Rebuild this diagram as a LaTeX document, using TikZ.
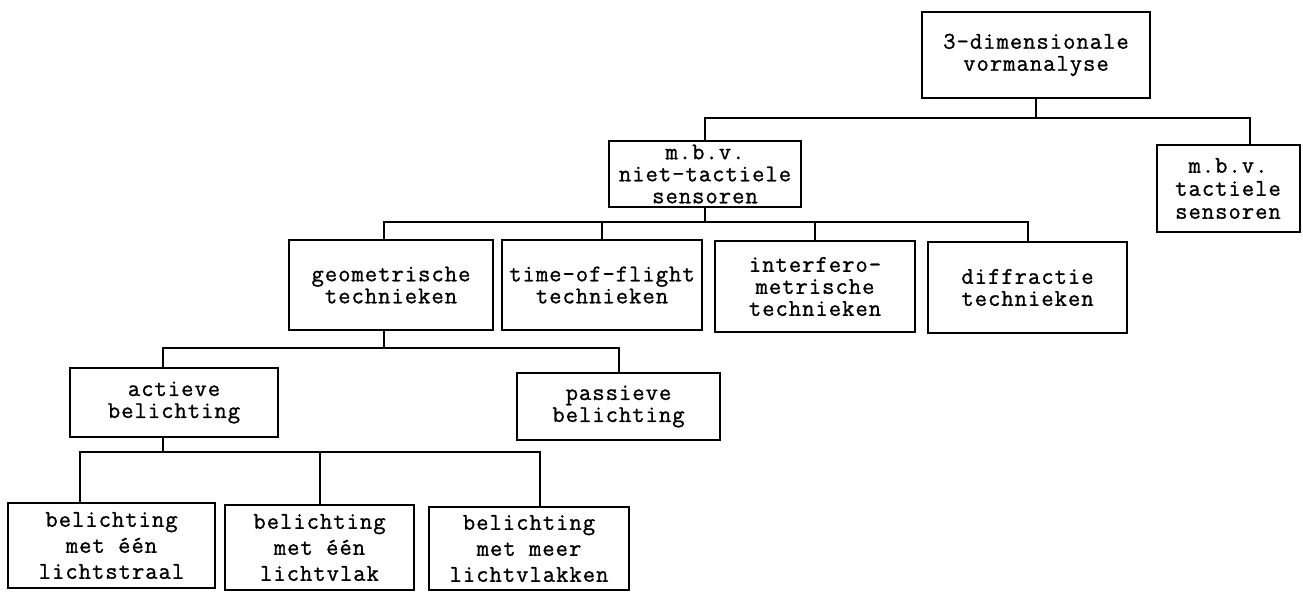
\documentclass[tikz,border=0pt]{standalone}
\usepackage{fontspec}
\setmonofont{Latin Modern Mono}[FakeBold=1, LetterSpace=4]
\usetikzlibrary{positioning}

\begin{document}
\begin{tikzpicture}[
  x=1pt, y=-1pt,
  box/.style={rectangle, draw=black, line width=2pt, align=center, inner xsep=2pt, inner ysep=0pt,
              font=\ttfamily\fontsize{24}{22}\selectfont},
  tallbox/.style={box, font=\ttfamily\fontsize{24}{26}\selectfont},
  link/.style={draw=black, line width=2pt}]
  \path[fill=white] (0,0) rectangle (1303,592);
  % bus levels
  \coordinate (bus1) at (0,118);
  \coordinate (bus2) at (0,222);
  \coordinate (bus3) at (0,348);
  \coordinate (bus4) at (0,452);
  % level 0 and 1
  \node[box, minimum width=228pt, minimum height=86pt] (vorm) at (1036,55) {3-dimensionale\\vormanalyse};
  \node[box, minimum width=192pt, minimum height=66pt] (niet) at (705,174) {m.b.v.\\niet-tactiele\\sensoren};
  \node[box, minimum width=143pt, minimum height=87pt, font=\ttfamily\fontsize{24}{23}\selectfont] (tact) at (1228,188.5) {m.b.v.\\tactiele\\sensoren};
  % level 2
  \node[box, minimum width=204pt, minimum height=90pt] (geo) at (391,285) {geometrische\\technieken};
  \node[box, minimum width=200pt, minimum height=90pt] (tof) at (602,285) {time-of-flight\\technieken};
  \node[box, minimum width=200pt, minimum height=91pt] (interf) at (815,286.5) {interfero-\\metrische\\technieken};
  \node[box, minimum width=199pt, minimum height=91pt] (diff) at (1027.5,287.5) {diffractie\\technieken};
  % level 3
  \node[box, minimum width=208pt, minimum height=69pt] (actief) at (174,402.5) {actieve\\belichting};
  \node[box, minimum width=203pt, minimum height=67pt] (passief) at (618.5,406.5) {passieve\\belichting};
  % level 4
  \node[tallbox, minimum width=207pt, minimum height=85pt] (straal) at (111.5,545.5) {belichting\\met één\\lichtstraal};
  \node[tallbox, minimum width=189pt, minimum height=85pt] (vlak) at (319.5,547.5) {belichting\\met één\\lichtvlak};
  \node[tallbox, minimum width=200pt, minimum height=83pt] (vlakken) at (529,548.5) {belichting\\met meer\\lichtvlakken};
  % drop points that sit off centre
  \coordinate (tact-top) at ([xshift=22pt]tact.north);
  \coordinate (geo-top) at ([xshift=-7pt]geo.north);
  \coordinate (geo-bot) at ([xshift=-7pt]geo.south);
  \coordinate (actief-top) at ([xshift=-11pt]actief.north);
  \coordinate (actief-bot) at ([xshift=-11pt]actief.south);
  \coordinate (straal-top) at ([xshift=-32pt]straal.north);
  \coordinate (vlakken-top) at ([xshift=11pt]vlakken.north);
  % connectors
  \draw[link] (vorm.south) -- (vorm.south |- bus1);
  \draw[link] (niet.north) |- (tact-top |- bus1) -- (tact-top);
  \draw[link] (niet.south) -- (niet.south |- bus2);
  \draw[link] (geo-top) |- (diff.north |- bus2) -- (diff.north);
  \foreach \n in {tof, interf}
    \draw[link] (\n.north) -- (\n.north |- bus2);
  \draw[link] (geo-bot) -- (geo-bot |- bus3);
  \draw[link] (actief-top) |- (passief.north |- bus3) -- (passief.north);
  \draw[link] (actief-bot) -- (actief-bot |- bus4);
  \draw[link] (straal-top) |- (vlakken-top |- bus4) -- (vlakken-top);
  \draw[link] (vlak.north) -- (vlak.north |- bus4);
\end{tikzpicture}
\end{document}
